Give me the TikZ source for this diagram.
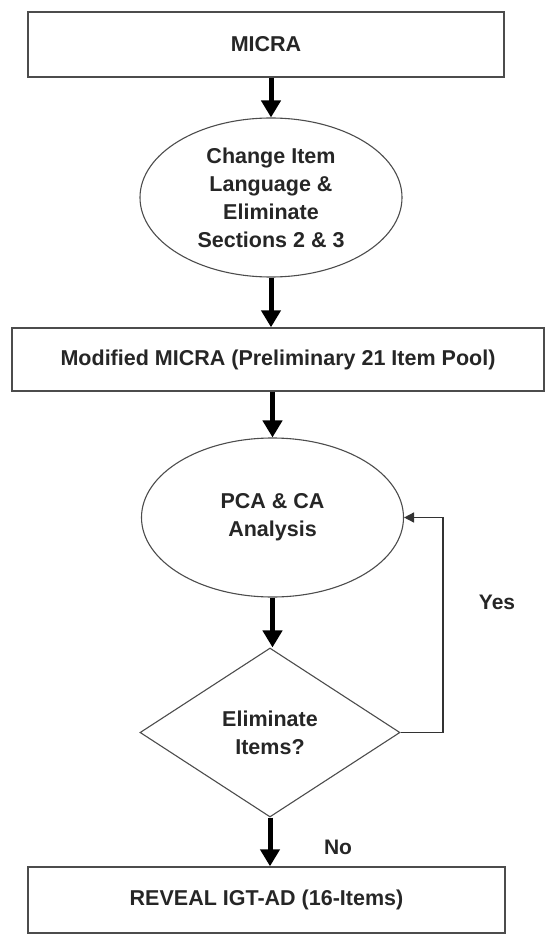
\documentclass[tikz,border=0pt]{standalone}
\usepackage{fontspec}
\setmainfont{Liberation Sans}
\usetikzlibrary{shapes.geometric,arrows.meta}
\begin{document}
\begin{tikzpicture}[x=1pt,y=-1pt,
  every node/.style={font=\bfseries\fontsize{21.5}{28}\selectfont, text=black!85, align=center},
  boxnode/.style={draw=black!70, line width=1.4pt, rectangle, inner sep=0pt},
  ovalnode/.style={draw=black!70, line width=1.1pt, ellipse, inner sep=0pt, minimum width=262pt, minimum height=159pt},
  decnode/.style={draw=black!70, line width=1.1pt, diamond, inner sep=0pt, minimum width=260pt, minimum height=169pt},
  bigarrow/.style={line width=5pt, black, -{Triangle[width=19pt,length=17pt]}},
  thinarrow/.style={line width=1.5pt, black!80, -{Triangle[width=10pt,length=10pt]}},
  lbl/.style={font=\bfseries\fontsize{21}{26}\selectfont}
]
\useasboundingbox (0,0) rectangle (556,941);
\node[boxnode, minimum width=476pt, minimum height=65pt] (micra) at (266,44.5) {MICRA};
\node[ovalnode] (change) at (271,197.5) {Change Item\\Language \&\\Eliminate\\Sections 2 \& 3};
\node[boxnode, minimum width=532pt, minimum height=63pt] (mod) at (278,359.5) {Modified MICRA (Preliminary 21 Item Pool)};
\node[ovalnode] (pca) at (272.5,517.5) {PCA \& CA\\Analysis};
\node[decnode] (elim) at (270,732.5) {Eliminate\\Items?};
\node[boxnode, minimum width=477pt, minimum height=66pt] (reveal) at (266.5,900) {REVEAL IGT-AD (16-Items)};
\draw[bigarrow] (micra.south -| change.north) -- (change.north);
\draw[bigarrow] (change.south) -- (change.south |- mod.north);
\draw[bigarrow] (mod.south -| pca.north) -- (pca.north);
\draw[bigarrow] (pca.south) -- (pca.south |- elim.north);
\draw[bigarrow] (elim.south) -- (elim.south |- reveal.north);
\coordinate (fbx) at (443,0);
\draw[thinarrow] (elim.east) -- (elim.east -| fbx) -- (fbx |- pca.east) -- (pca.east);
\node[lbl] (yes) at (497,602) {Yes};
\node[lbl] (no) at (338,847) {No};
\end{tikzpicture}
\end{document}
